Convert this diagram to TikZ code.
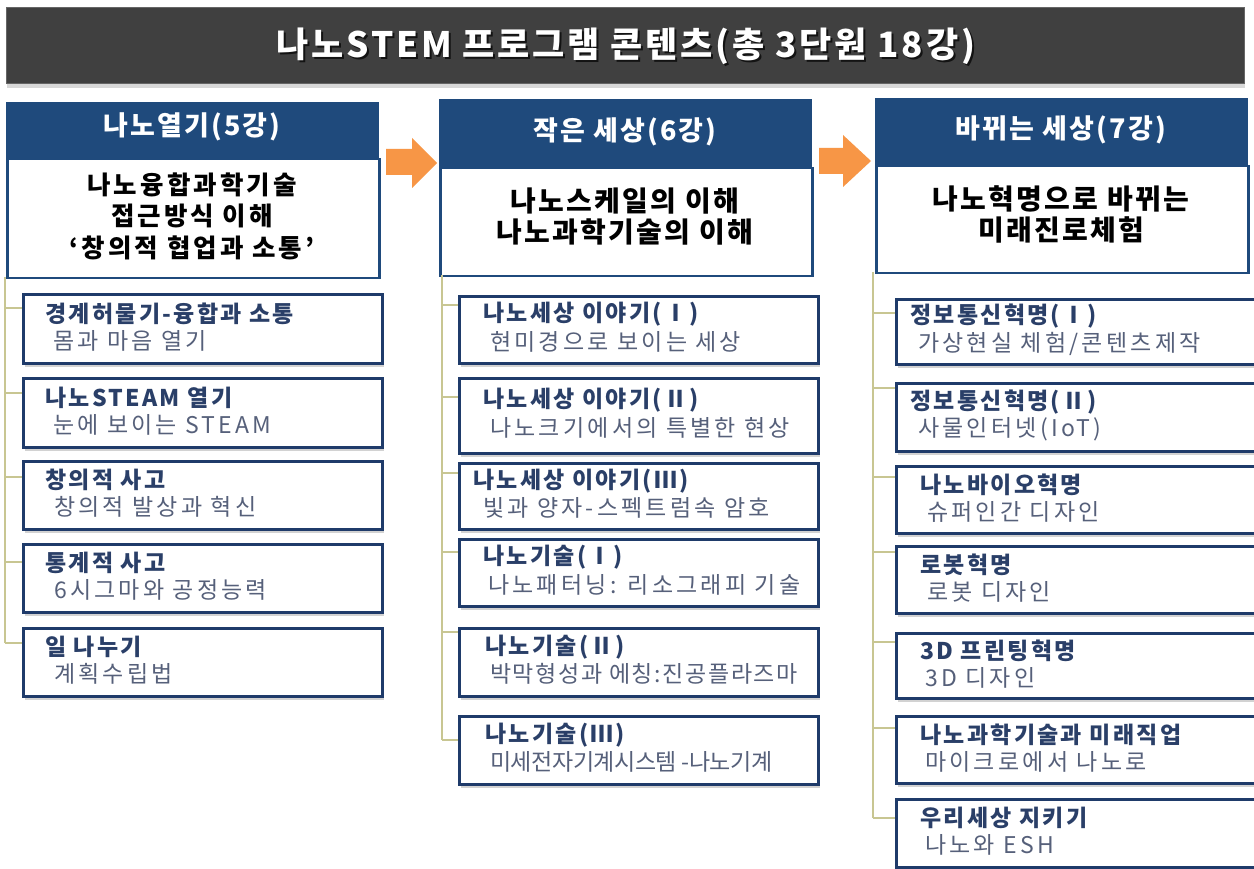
\documentclass[tikz,border=0pt]{standalone}
\usepackage{fontspec}
\setmainfont{Noto Sans CJK KR}
\newfontfamily\krttl[LetterSpace=10]{Noto Sans CJK KR}
\newfontfamily\krsub[LetterSpace=14]{Noto Sans CJK KR}
\newfontfamily\krmid[LetterSpace=7]{Noto Sans CJK KR}
\newfontfamily\krtight[LetterSpace=-2]{Noto Sans CJK KR}
\newfontfamily\krhdr[LetterSpace=8]{Noto Sans CJK KR}
\newfontfamily\krmainA[LetterSpace=12]{Noto Sans CJK KR}
\newfontfamily\krmainB[LetterSpace=8]{Noto Sans CJK KR}
\newfontfamily\krti[LetterSpace=8]{Noto Sans CJK KR}
\usetikzlibrary{shadows,calc}
\definecolor{navy}{HTML}{1F4A7C}
\definecolor{boxline}{HTML}{1F3B6A}
\definecolor{ttlc}{HTML}{2A3F68}
\definecolor{subc}{HTML}{56607A}
\definecolor{treec}{HTML}{C8C692}
\definecolor{arrowor}{HTML}{F79646}
\definecolor{barc}{HTML}{404040}
\tikzset{
  subbox/.style={draw=boxline, line width=3pt, fill=white, minimum width=359pt, inner sep=0pt,
    drop shadow={shadow xshift=1.5pt, shadow yshift=-3pt, opacity=0.35, fill=gray}},
  ttlsty/.style={font=\krttl\bfseries\fontsize{23}{26}\selectfont, text=ttlc, anchor=west, inner sep=0pt},
  substy/.style={font=\krsub\fontsize{23}{26}\selectfont, text=subc, anchor=west, inner sep=0pt},
  hdr/.style={fill=navy, draw=navy, line width=1pt, inner sep=0pt, anchor=north west},
  mainbox/.style={fill=white, draw=navy, line width=2.5pt, inner sep=0pt, anchor=north west},
  hdrtext/.style={font=\krhdr\bfseries\fontsize{27}{30}\selectfont, text=white, inner sep=0pt},
  maintext/.style={font=\krmainB\bfseries\fontsize{28}{31}\selectfont, text=black, align=center, inner sep=0pt},
  tree/.style={draw=treec, line width=1.1pt},
  blockarrow/.style={fill=arrowor},
}
\newcommand\SubBox[8]{%
  \node[subbox, minimum height=#4pt, anchor=north west] (#1) at (#2,#3) {};
  \node[ttlsty] (#1t) at ({#2+#5},{#3+#4/2-14}) {#6};
  \node[substy] (#1s) at ({#2+#7},{#3+#4/2+13}) {#8};
}
\begin{document}
\begin{tikzpicture}[x=1pt,y=-1pt]
\useasboundingbox (0,0) rectangle (1254,869);
\fill[white] (0,0) rectangle (1254,869);
% title bar
\node[fill=barc, draw=black!60, line width=0.8pt, minimum width=1238pt, minimum height=76pt, inner sep=0pt, anchor=north west,
  drop shadow={shadow xshift=1pt, shadow yshift=-5pt, opacity=0.3, fill=gray}] (bar) at (6,7) {};
\node[font=\krti\bfseries\fontsize{35}{40}\selectfont, text=black, opacity=0.7, inner sep=0pt] (titleshadow) at (628,48) {나노STEM 프로그램 콘텐츠(총 3단원 18강)};
\node[font=\krti\bfseries\fontsize{35}{40}\selectfont, text=white, inner sep=0pt] (title) at (626,46) {나노STEM 프로그램 콘텐츠(총 3단원 18강)};

% column 1
\node[mainbox, minimum width=372pt, minimum height=119pt] (m1) at (6,158) {};
\node[hdr, minimum width=372pt, minimum height=56pt] (h1) at (6,102) {};
\node[hdrtext] (h1t) at (192,127) {나노열기(5강)};
\node[maintext, font=\krmainA\bfseries\fontsize{25.5}{31.5}\selectfont] (m1t) at (192,216) {나노융합과학기술\\접근방식 이해\\‘창의적 협업과 소통’};

% column 2
\node[mainbox, minimum width=372pt, minimum height=108pt] (m2) at (439,167) {};
\node[hdr, minimum width=372pt, minimum height=68pt] (h2) at (439,99) {};
\node[hdrtext] (h2t) at (625,132) {작은 세상(6강)};
\node[maintext] (m2t) at (625,217) {나노스케일의 이해\\나노과학기술의 이해};

% column 3
\node[mainbox, minimum width=372pt, minimum height=107pt] (m3) at (875,165) {};
\node[hdr, minimum width=372pt, minimum height=67pt] (h3) at (875,98) {};
\node[hdrtext] (h3t) at (1061,130) {바뀌는 세상(7강)};
\node[maintext] (m3t) at (1061,214) {나노혁명으로 바뀌는\\미래진로체험};

% block arrows
\fill[blockarrow] (386,149) -- (412,149) -- (412,138) -- (437,163) -- (412,188) -- (412,175) -- (386,175) -- cycle;
\fill[blockarrow] (819,148) -- (843,148) -- (843,135) -- (871,161) -- (843,187) -- (843,174) -- (819,174) -- cycle;

% column 1 items
\SubBox{c1a}{22}{293}{69}{23}{경계허물기-융합과 소통}{31}{몸과 마음 열기}
\SubBox{c1b}{22}{377}{69}{23}{나노STEAM 열기}{31}{눈에 보이는 STEAM}
\SubBox{c1c}{22}{460}{68}{23}{창의적 사고}{32}{창의적 발상과 혁신}
\SubBox{c1d}{22}{543}{68}{23}{통계적 사고}{32}{6시그마와 공정능력}
\SubBox{c1e}{22}{627}{68}{23}{일 나누기}{32}{계획수립법}

% column 2 items
\SubBox{c2a}{458}{295}{67}{25}{나노세상 이야기(Ⅰ)}{32}{현미경으로 보이는 세상}
\SubBox{c2b}{458}{377}{75}{25}{나노세상 이야기(Ⅱ)}{32}{나노크기에서의 특별한 현상}
\SubBox{c2c}{458}{462}{66}{15}{나노세상 이야기(Ⅲ)}{25}{빛과 양자-스펙트럼속 암호}
\SubBox{c2d}{458}{538}{67}{25}{나노기술(Ⅰ)}{30}{나노패터닝: 리소그래피 기술}
\SubBox{c2e}{458}{627}{68}{27}{나노기술(Ⅱ)}{32}{{\krmid 박막형성과 에칭:진공플라즈마}}
\SubBox{c2f}{458}{715}{68}{27}{나노기술(Ⅲ)}{32}{{\krtight 미세전자기계시스템 -나노기계}}

% column 3 items
\SubBox{c3a}{895}{298}{65}{15}{정보통신혁명(Ⅰ)}{23}{가상현실 체험/콘텐츠제작}
\SubBox{c3b}{895}{382}{68}{15}{정보통신혁명(Ⅱ)}{23}{사물인터넷(IoT)}
\SubBox{c3c}{895}{465}{67}{25}{나노바이오혁명}{32}{슈퍼인간 디자인}
\SubBox{c3d}{895}{545}{67}{25}{로봇혁명}{32}{로봇 디자인}
\SubBox{c3e}{895}{632}{65}{25}{3D 프린팅혁명}{30}{3D 디자인}
\SubBox{c3f}{895}{715}{67}{25}{나노과학기술과 미래직업}{30}{마이크로에서 나노로}
\SubBox{c3g}{895}{798}{68}{25}{우리세상 지키기}{30}{나노와 ESH}

% tree connectors column 1
\coordinate (r1) at (5,277);
\coordinate (t1a) at (5,308);
\coordinate (t1b) at (5,393);
\coordinate (t1c) at (5,477);
\coordinate (t1d) at (5,562);
\coordinate (t1e) at (5,643);
\draw[tree] (r1) -- (t1e);
\foreach \t/\b in {t1a/c1a,t1b/c1b,t1c/c1c,t1d/c1d,t1e/c1e}
  \draw[tree] (\t) -- (\t -| \b.west);

% tree connectors column 2
\coordinate (r2) at (442,275);
\coordinate (t2a) at (442,305);
\coordinate (t2b) at (442,397);
\coordinate (t2c) at (442,473);
\coordinate (t2d) at (442,552);
\coordinate (t2e) at (442,632);
\coordinate (t2f) at (442,740);
\draw[tree] (r2) -- (t2f);
\foreach \t/\b in {t2a/c2a,t2b/c2b,t2c/c2c,t2d/c2d,t2e/c2e,t2f/c2f}
  \draw[tree] (\t) -- (\t -| \b.west);

% tree connectors column 3
\coordinate (r3) at (873,272);
\coordinate (t3a) at (873,313);
\coordinate (t3b) at (873,388);
\coordinate (t3c) at (873,477);
\coordinate (t3d) at (873,552);
\coordinate (t3e) at (873,642);
\coordinate (t3f) at (873,728);
\coordinate (t3g) at (873,818);
\draw[tree] (r3) -- (t3g);
\foreach \t/\b in {t3a/c3a,t3b/c3b,t3c/c3c,t3d/c3d,t3e/c3e,t3f/c3f,t3g/c3g}
  \draw[tree] (\t) -- (\t -| \b.west);
\end{tikzpicture}
\end{document}
